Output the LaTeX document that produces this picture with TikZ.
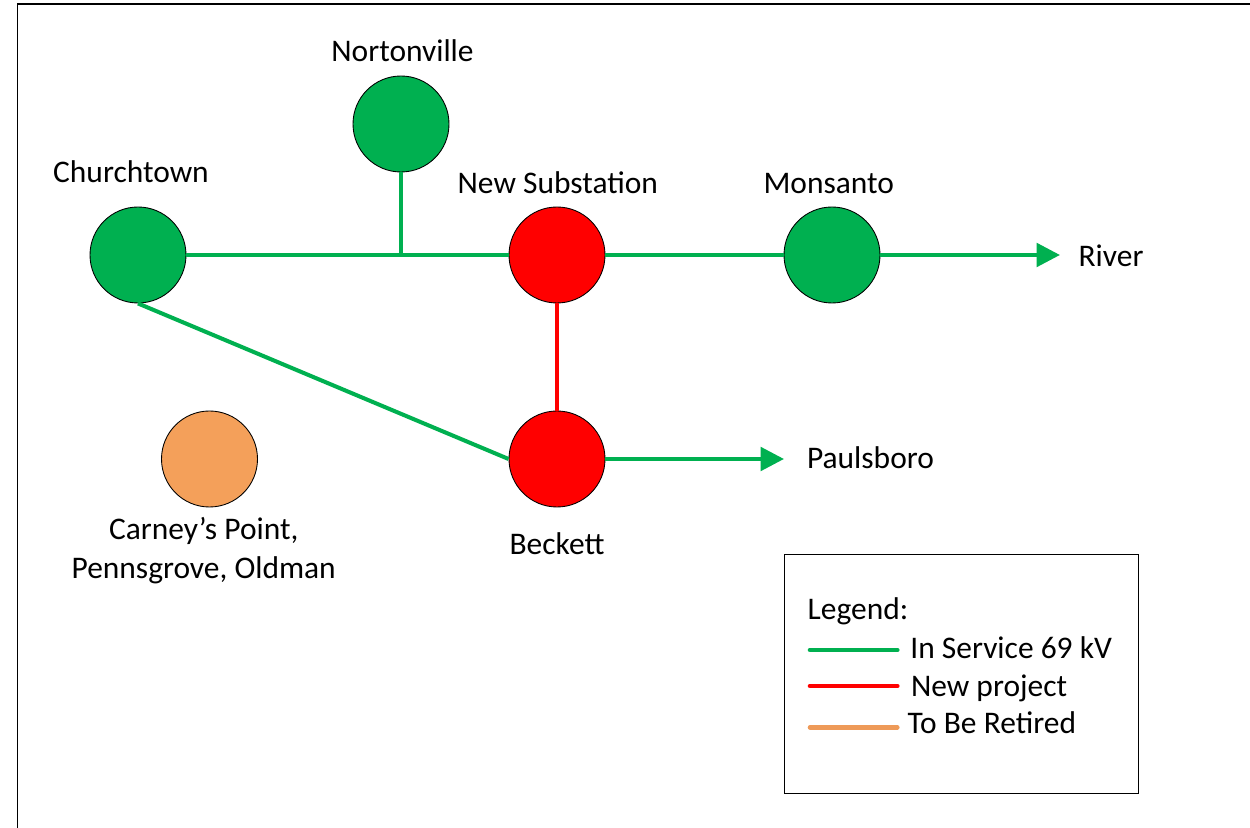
\documentclass[tikz,border=0pt]{standalone}
\usepackage{xcolor}
\usepackage{fontspec}
\setmainfont{Carlito}
\usepackage{tikz}
\usetikzlibrary{shapes,arrows.meta,positioning,calc}

\definecolor{lineGreen}{HTML}{00B050}
\definecolor{lineRed}{HTML}{FF0000}
\definecolor{retireOrange}{HTML}{F4A05A}
\definecolor{legendOrange}{HTML}{EE9A58}

\begin{document}
\begin{tikzpicture}[
  font=\fontsize{17.9pt}{22pt}\selectfont,
  station/.style={circle,draw=black,line width=0.5pt,minimum size=1.92cm,inner sep=0pt},
  lbl/.style={inner sep=0pt},
  inservice/.style={lineGreen,line width=2.3pt},
  newline/.style={lineRed,line width=2pt},
  feed/.style={inservice,-{Triangle[length=0.47cm,width=0.47cm]}},
  swatch/.style={line width=2.6pt,line cap=round}
]
\useasboundingbox (0,0) rectangle (25,16.54);
% Frame
\draw[line width=1.1pt] (0.35,-1) -- (0.35,16.46) -- (26,16.46);

% Stations
\node[station,fill=lineGreen] (church) at (2.76,11.44) {};
\node[station,fill=lineGreen] (norton) at (8.02,14.06) {};
\node[station,fill=lineRed] (newsub) at (11.14,11.44) {};
\node[station,fill=lineGreen] (monsanto) at (16.64,11.44) {};
\node[station,fill=lineRed] (beckett) at (11.14,7.36) {};
\node[station,fill=retireOrange] (carney) at (4.19,7.36) {};
\coordinate (tap) at (8.02,11.44);
\coordinate (river) at (21.2,11.44);
\coordinate (paulsboro) at (15.68,7.36);

% Lines
\draw[inservice] (church) -- (newsub);
\draw[inservice] (norton) -- (tap);
\draw[inservice] (newsub) -- (monsanto);
\draw[inservice] (church.south) -- (beckett.west);
\draw[newline] (newsub) -- (beckett);
\draw[feed] (monsanto) -- (river);
\draw[feed] (beckett) -- (paulsboro);

% Labels
\node[lbl,anchor=base] (churchlbl) at (2.62,12.886) {Churchtown};
\node[lbl,anchor=base] (nortonlbl) at (8.05,15.306) {Nortonville};
\node[lbl,anchor=base] (newsublbl) at (11.156,12.66) {New Substation};
\node[lbl,anchor=base] (monsantolbl) at (16.576,12.66) {Monsanto};
\node[lbl,anchor=base] (beckettlbl) at (11.14,5.44) {Beckett};
\node[lbl,anchor=base west] (riverlbl) at (21.566,11.206) {River};
\node[lbl,anchor=base west] (paulsborolbl) at (16.134,7.174) {Paulsboro};
\node[lbl,anchor=base] (carneylbl) at (4.074,5.754) {Carney’s Point,};
\node[lbl,anchor=base] (carneylbl2) at (4.074,4.974) {Pennsgrove, Oldman};

% Legend
\draw[line width=0.85pt] (15.694,5.446) rectangle (22.774,0.666);
\node[lbl,anchor=base west] (legendlbl) at (16.146,4.154) {Legend:};
\draw[swatch,lineGreen] (16.2,3.54) -- (17.946,3.54);
\draw[swatch,lineRed] (16.2,2.82) -- (17.946,2.82);
\draw[swatch,legendOrange] (16.2,1.994) -- (17.946,1.994);
\node[lbl,anchor=base west] (servicelbl) at (18.2,3.374) {In Service 69 kV};
\node[lbl,anchor=base west] (projectlbl) at (18.214,2.62) {New project};
\node[lbl,anchor=base west] (retirelbl) at (18.146,1.874) {To Be Retired};
\end{tikzpicture}
\end{document}
